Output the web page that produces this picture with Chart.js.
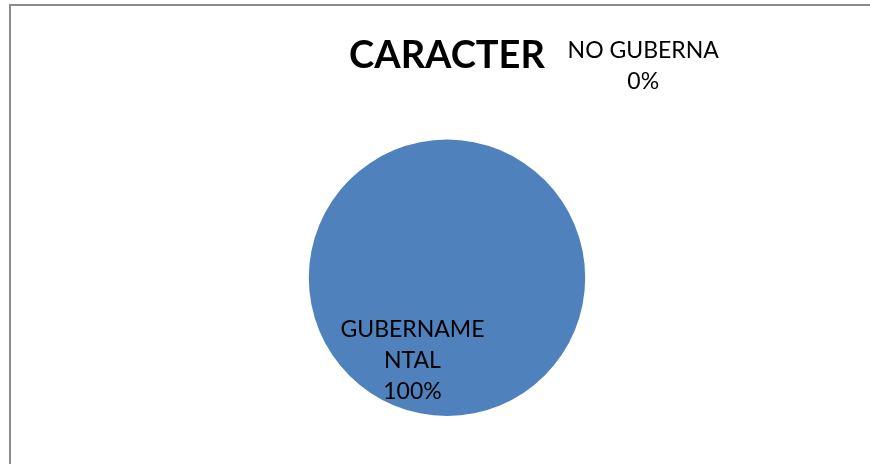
<!DOCTYPE html>
<html>
<head>
<meta charset="utf-8">
<script src="https://cdn.jsdelivr.net/npm/chart.js@4/dist/chart.umd.min.js"></script>
<style>
  html, body { margin: 0; padding: 0; background: #ffffff; overflow: hidden; }
  #wrap { position: relative; width: 870px; height: 464px; }
  #frame {
    position: absolute; left: 9px; top: 4px; width: 900px; height: 500px;
    border-left: 2px solid #8a8a8a; border-top: 2px solid #8a8a8a;
  }
  canvas { position: absolute; left: 0; top: 0; }
</style>
</head>
<body>
<div id="wrap">
  <div id="frame"></div>
  <canvas id="pieChart" width="870" height="464"></canvas>
</div>
<script>
// Chart data
const chartTitle = "CARACTER";
const categories = ["GUBERNAMENTAL", "NO GUBERNAMENTAL"];
const values = [100, 0];
// Label text as wrapped in the original chart
const labelLines = [["GUBERNAME", "NTAL"], ["NO GUBERNA"]];
const sliceColors = ["#4F81BD", "#C0504D"];

// Where each data label sits, as a fraction of the pie radius from its centre
const labelAnchors = [
  { dx: -0.25, dy: 0.60 },
  { dx: 1.42, dy: -1.53 },
];

// Draws the category + percentage labels like the spreadsheet chart
const dataLabels = {
  id: "dataLabels",
  afterDatasetsDraw(chart) {
    const ctx = chart.ctx;
    const arcs = chart.getDatasetMeta(0).data;
    const total = values.reduce((a, b) => a + b, 0);
    const cx = arcs[0].x;
    const cy = arcs[0].y;
    const r = arcs[0].outerRadius;
    ctx.save();
    ctx.fillStyle = "#000000";
    ctx.font = "23px Lato, 'Liberation Sans', sans-serif";
    ctx.textAlign = "center";
    ctx.textBaseline = "middle";
    values.forEach((v, i) => {
      const pct = Math.round((v / total) * 100) + "%";
      const lines = labelLines[i].concat([pct]);
      const lh = 31;
      const x = cx + labelAnchors[i].dx * r;
      const y0 = cy + labelAnchors[i].dy * r - ((lines.length - 1) * lh) / 2;
      lines.forEach((t, j) => ctx.fillText(t, x, y0 + j * lh));
    });
    ctx.restore();
  },
};

const ctx = document.getElementById("pieChart").getContext("2d");
new Chart(ctx, {
  type: "pie",
  data: {
    labels: categories,
    datasets: [
      {
        data: values,
        backgroundColor: sliceColors,
        borderWidth: 0,
      },
    ],
  },
  options: {
    responsive: false,
    animation: false,
    layout: { padding: { left: 24, right: 0, top: 0, bottom: 48 } },
    plugins: {
      legend: { display: false },
      tooltip: { enabled: false },
      title: {
        display: true,
        text: chartTitle,
        color: "#000000",
        font: { family: "Lato, 'Liberation Sans', sans-serif", size: 38, weight: "bold", lineHeight: 1.2 },
        padding: { top: 33, bottom: 61 },
      },
    },
  },
  plugins: [dataLabels],
});
</script>
</body>
</html>
